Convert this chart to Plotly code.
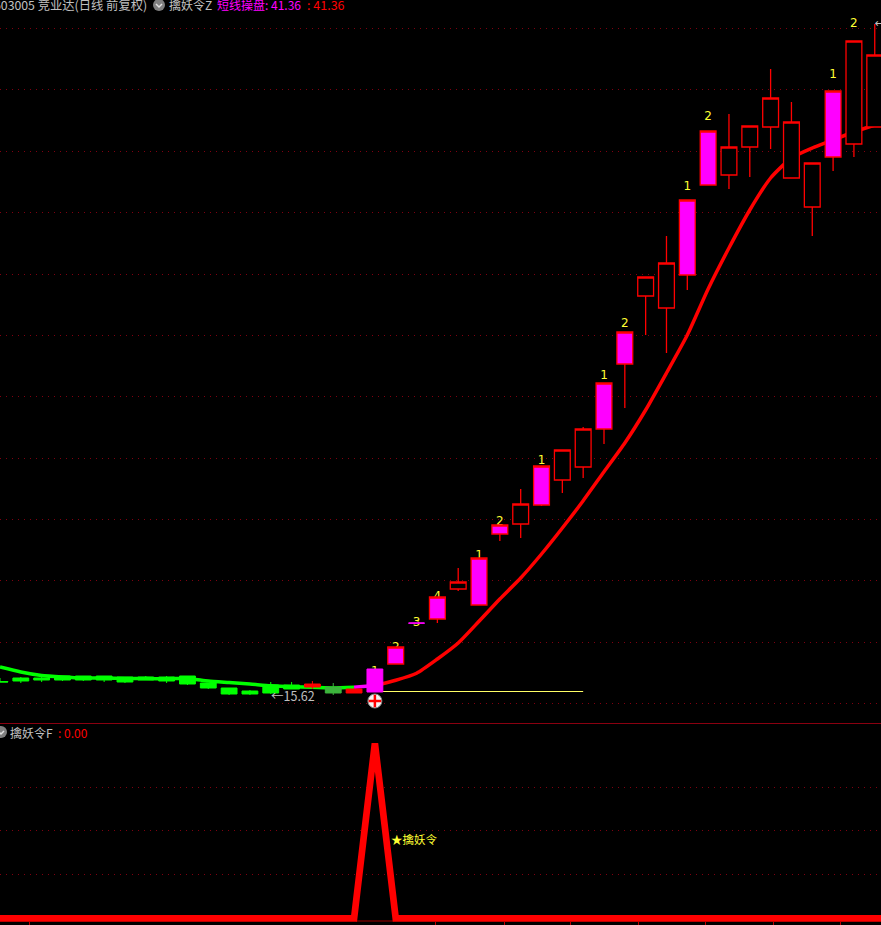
import plotly.graph_objects as go

# ---------- data ----------
idx = list(range(43))
opens  = [16.16,16.30,16.30,16.38,16.38,16.38,16.34,16.34,16.34,16.38,16.10,15.90,15.78,16.02,16.02,15.94,15.94,15.70,15.74,16.86,18.49,18.66,19.86,19.22,22.06,22.46,23.22,24.22,24.74,26.26,28.86,31.58,31.10,32.42,36.02,36.42,37.54,38.34,36.30,35.14,37.14,37.66,38.34]
highs  = [16.30,16.34,16.38,16.38,16.38,16.38,16.34,16.38,16.38,16.38,16.10,15.90,15.82,16.14,16.14,16.18,16.10,15.86,16.66,17.54,18.50,19.54,20.70,21.10,22.42,23.86,24.78,25.42,26.34,28.10,30.14,32.34,33.98,35.42,38.18,38.86,38.38,40.66,39.34,36.90,39.78,41.78,42.46]
lows   = [16.14,16.10,16.14,16.18,16.18,16.14,16.10,16.22,16.10,16.02,15.86,15.62,15.62,15.66,15.86,15.86,15.62,15.70,15.74,16.86,18.49,18.50,19.78,19.22,21.78,21.90,23.18,23.70,24.30,25.66,27.10,30.02,29.30,31.82,36.02,35.86,36.34,37.46,36.30,33.98,36.58,37.14,38.34]
closes = [16.14,16.18,16.22,16.22,16.22,16.22,16.14,16.22,16.18,16.06,15.90,15.66,15.66,15.70,15.86,16.06,15.70,15.86,16.66,17.54,18.50,19.54,20.14,21.10,22.42,23.26,24.78,25.42,26.26,28.10,30.14,32.34,32.90,35.42,38.18,37.54,38.38,39.50,38.54,36.90,39.78,41.78,41.22]

green_bars   = [0,1,2,3,4,5,6,7,8,9,10,11,12,13,14]
dim_bars     = [16]
red_bars     = [15,17]
signal_bars  = [19,21,23,24,26,29,30,33,34,40]
plain_signal = [18,20]
hollow_bars  = [22,25,27,28,31,32,35,36,37,38,39,41,42]

ma = [16.74,16.54,16.40,16.34,16.30,16.30,16.28,16.28,16.27,16.28,16.18,16.12,16.06,15.99,15.95,15.93,15.90,15.93,16.00,16.21,16.49,17.06,17.70,18.57,19.46,20.30,21.26,22.30,23.39,24.55,25.70,27.02,28.50,30.02,31.86,33.50,35.02,36.30,37.10,37.50,37.82,38.14,38.42]

label_idx  = [18,19,20,21,23,24,26,29,30,33,34,40,41]
label_txt  = ["1","2","3","4","1","2","1","1","2","1","2","1","2"]
label_vals = [16.54,17.50,18.52,19.54,21.18,22.54,25.00,28.38,30.48,35.94,38.74,40.43,42.46]

base_idx = [18,28]
base_val = [15.76,15.76]

price_grid = [42.28,39.85,37.37,34.93,32.45,30.00,27.57,25.09,22.65,20.21,17.73,15.29]
f_grid = [25,50,75]
f_idx = list(range(44))
f_vals = [0]*18 + [100] + [0]*25
floor_idx = [17.1,18.9]
floor_val = [-1.55,-1.55]
x_ticks = [1.44,20.93,24.2,27.41,30.68,33.89,37.16,40.37]

# ---------- styles ----------
W, H = 881, 925
GRID = "#800010"
XR = [0, 42.3]
YR = [14.50, 43.42]
FR = [-3.83, 111.03]
D_TOP = [(925-723)/925, 1]
D_BOT = [0, (925-724)/925]
px = lambda v: v/W
py = lambda v: 1 - v/H

def pick(a, ids):
    return [a[i] for i in ids]

def candle(ids, line, fill, lw):
    return go.Candlestick(
        x=ids, open=pick(opens, ids), high=pick(highs, ids), low=pick(lows, ids), close=pick(closes, ids),
        xaxis="x", yaxis="y3", whiskerwidth=0,
        increasing=dict(line=dict(color=line, width=lw), fillcolor=fill),
        decreasing=dict(line=dict(color=line, width=lw), fillcolor=fill),
        hoverinfo="skip", showlegend=False)

traces = [
    go.Scatter(x=idx[:18], y=ma[:18], mode="lines", line=dict(color="#00ff00", width=3.5, shape="spline", smoothing=0.6), xaxis="x", yaxis="y"),
    go.Scatter(x=idx[17:19], y=ma[17:19], mode="lines", line=dict(color="#ff00ff", width=3.5), xaxis="x", yaxis="y"),
    go.Scatter(x=idx[18:], y=ma[18:], mode="lines", line=dict(color="#ff0000", width=3.5, shape="spline", smoothing=0.6), xaxis="x", yaxis="y"),
    go.Scatter(x=base_idx, y=base_val, mode="lines", line=dict(color="#ffff66", width=1), xaxis="x", yaxis="y"),
    go.Scatter(x=label_idx, y=label_vals, mode="text", text=label_txt, textposition="middle center",
               textfont=dict(color="#ffff33", size=12, family="DejaVu Sans"), xaxis="x", yaxis="y"),
    go.Scatter(x=[18], y=[15.38], mode="markers",
               marker=dict(symbol="circle", size=14, color="#f4f4f4", line=dict(color="#888888", width=1)), xaxis="x", yaxis="y"),
    go.Scatter(x=[18], y=[15.38], mode="markers",
               marker=dict(symbol="cross-thin", size=9, line=dict(color="#ff0000", width=2.5)), xaxis="x", yaxis="y"),
    go.Scatter(x=[42], y=[42.46], mode="text", text=["←"], textposition="middle right",
               textfont=dict(color="#c0c0c0", size=12, family="DejaVu Sans"), xaxis="x", yaxis="y"),
    candle(hollow_bars, "#ff0000", "#000000", 1.3),
    candle(green_bars, "#00ff00", "#00ff00", 1),
    candle(dim_bars, "#3cb43c", "#3cb43c", 1),
    candle(red_bars, "#ff0000", "#ff0000", 1),
    candle(signal_bars, "#ff0000", "#ff00ff", 1.3),
    candle(plain_signal, "#ff00ff", "#ff00ff", 1),
    go.Scatter(x=floor_idx, y=floor_val, mode="lines", line=dict(color="#a00000", width=1), xaxis="x2", yaxis="y2"),
    go.Scatter(x=f_idx, y=f_vals, mode="lines", line=dict(color="#ff0000", width=6.7), xaxis="x2", yaxis="y2"),
]
for t in traces:
    if isinstance(t, go.Scatter):
        t.hoverinfo = "skip"
        t.showlegend = False

def note(text, x, y, color, size=12, xref="paper", yref="paper", anchor="left", family="Noto Sans CJK SC"):
    return dict(text=text, x=x, y=y, xref=xref, yref=yref, xanchor=anchor, yanchor="middle",
                showarrow=False, font=dict(color=color, size=size, family=family), borderpad=0, borderwidth=0)

annotations = [
    note("603005 竞业达(日线 前复权)", px(-6), py(5), "#c0c0c0", size=12.3),
    note("擒妖令Z", px(169), py(5), "#c0c0c0"),
    note("短线操盘: 41.36", px(217), py(5), "#ff00ff"),
    note(": 41.36", px(307), py(5), "#ff0000", size=12.5),
    note("擒妖令F", px(10), py(732), "#c0c0c0"),
    note(": 0.00", px(58), py(732), "#ff0000"),
    note("←15.62", 13, 15.62, "#c0c0c0", xref="x", yref="y", size=12.5),
    note("★擒妖令", 18.75, 45.5, "#ffff33", xref="x2", yref="y2", size=11.5),
]

def circle(cx, cy, r=6):
    return dict(type="circle", xref="paper", yref="paper", x0=px(cx-r), x1=px(cx+r), y0=py(cy+r), y1=py(cy-r),
                fillcolor="#808080", line=dict(width=0), layer="above")

def chevron(cx, cy):
    return dict(type="path", xref="paper", yref="paper",
                path=f"M {px(cx-3)} {py(cy-1)} L {px(cx)} {py(cy+2)} L {px(cx+3)} {py(cy-1)}",
                line=dict(color="#e0e0e0", width=1.5), layer="above")

shapes = [circle(159, 5), chevron(159, 5), circle(1, 732), chevron(1, 732)]

axis_off = dict(showticklabels=False, zeroline=False, showline=False)
fig = go.Figure(traces)
fig.update_layout(
    width=W, height=H, margin=dict(l=0, r=0, t=0, b=0),
    paper_bgcolor="#000000", plot_bgcolor="#000000", showlegend=False,
    boxmode="overlay", boxgap=0.24, boxgroupgap=0, hovermode=False,
    xaxis=dict(domain=[0, 1], range=XR, anchor="y", showgrid=False, zeroline=False, showticklabels=False,
               showline=True, linecolor="#8a0010", linewidth=1, rangeslider=dict(visible=False)),
    yaxis=dict(domain=D_TOP, range=YR, anchor="x", tickmode="array", tickvals=price_grid, showgrid=True,
               gridcolor=GRID, gridwidth=1, griddash="1px,5px", **axis_off),
    yaxis3=dict(range=YR, overlaying="y", anchor="x", showgrid=False, **axis_off),
    xaxis2=dict(domain=[0, 1], range=XR, anchor="y2", showgrid=False, zeroline=False, showticklabels=False,
                tickmode="array", tickvals=x_ticks, ticks="inside", ticklen=4, tickcolor="#c00000", tickwidth=1,
                rangeslider=dict(visible=False)),
    yaxis2=dict(domain=D_BOT, range=FR, anchor="x2", tickmode="array", tickvals=f_grid, showgrid=True,
                gridcolor=GRID, gridwidth=1, griddash="1px,5px", **axis_off),
    annotations=annotations, shapes=shapes,
)
fig.write_html("out.html", config={"displayModeBar": False}, post_script="document.body.style.margin='0';")
